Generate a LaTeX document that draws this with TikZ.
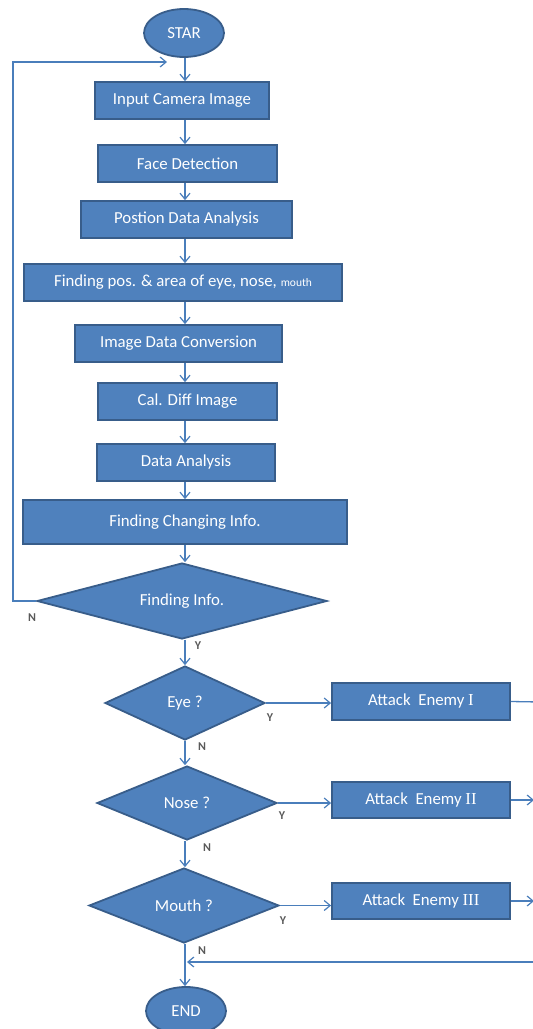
\documentclass[tikz,border=0pt]{standalone}
\usepackage{fontspec}
\setmainfont{Carlito}
\newfontfamily\numfont{Liberation Serif}
\usetikzlibrary{shapes.geometric,arrows.meta}
\definecolor{boxfill}{HTML}{4F81BD}
\definecolor{boxline}{HTML}{385D8A}
\definecolor{arrline}{HTML}{4A7EBB}
\definecolor{lblgray}{HTML}{595959}
\tikzset{
  base/.style={fill=boxfill,draw=boxline,line width=1.8pt,text=white,inner sep=0pt,
    font=\fontsize{16.8}{19}\selectfont},
  procbox/.style={base,rectangle,minimum width=#1,minimum height=37pt},
  termin/.style={base,ellipse,minimum width=80pt,minimum height=48pt},
  decide/.style={base,diamond,aspect=2},
  arr/.style={draw=arrline,line width=1.3pt,-{Straight Barb[length=6pt,width=10pt,line width=1.2pt]}},
  ln/.style={draw=arrline,line width=1.3pt},
  yn/.style={text=lblgray,inner sep=0pt,font=\fontsize{12}{14}\selectfont\bfseries}
}
\begin{document}
\begin{tikzpicture}[x=1pt,y=-1pt]
\useasboundingbox (0,0) rectangle (533,1029);
\coordinate (axis) at (185,0);
% terminals
\node[termin] (start) at (184,33) {STAR};
\node[termin] (end) at (186,1011) {END};
% process boxes
\node[procbox=174pt] (b1) at (182,100.5) {Input Camera Image};
\node[procbox=179pt] (b2) at (187.5,163.5) {Face Detection};
\node[procbox=211pt] (b3) at (186.5,219.5) {Postion Data Analysis};
\node[procbox=318pt] (b4) at (183,282.5) {Finding pos. \& area of eye, nose, {\fontsize{11.5}{13}\selectfont mouth}};
\node[procbox=207pt] (b5) at (178.5,343.5) {Image Data Conversion};
\node[procbox=179pt] (b6) at (187.5,401.5) {Cal. Diff Image};
\node[procbox=178pt] (b7) at (186,462.5) {Data Analysis};
\node[procbox=324pt,minimum height=44pt] (b8) at (185,522) {Finding Changing Info.};
% decisions
\node[decide,minimum width=290pt,minimum height=76pt] (info) at (182,601) {Finding Info.};
\node[decide,minimum width=160pt,minimum height=74pt] (eye) at (185,703) {Eye ?};
\node[decide,minimum width=180pt,minimum height=74pt] (nose) at (187,803) {Nose ?};
\node[decide,minimum width=190pt,minimum height=75pt] (mouth) at (184,905.5) {Mouth ?};
% attack boxes
\node[procbox=178pt] (a1) at (421,701.5) {Attack\ \ Enemy {\numfont I}};
\node[procbox=178pt,minimum height=36pt] (a2) at (421,800) {Attack\ \ Enemy {\numfont II}};
\node[procbox=178pt,minimum height=36pt] (a3) at (421,901) {Attack\ \ Enemy {\numfont III}};
% main chain
\draw[arr] (start.south -| axis) -- (b1.north -| axis);
\draw[arr] (b1.south -| axis) -- (b2.north -| axis);
\draw[arr] (b2.south -| axis) -- (b3.north -| axis);
\draw[arr] (b3.south -| axis) -- (b4.north -| axis);
\draw[arr] (b4.south -| axis) -- (b5.north -| axis);
\draw[arr] (b5.south -| axis) -- (b6.north -| axis);
\draw[arr] (b6.south -| axis) -- (b7.north -| axis);
\draw[arr] (b7.south -| axis) -- (b8.north -| axis);
\draw[arr] (b8.south -| axis) -- (info.north -| axis);
\draw[arr] (info.south -| axis) -- (eye.north -| axis);
\draw[arr] (eye.south -| axis) -- (nose.north -| axis);
\draw[arr] (nose.south -| axis) -- (mouth.north -| axis);
\draw[arr] (mouth.south -| axis) -- (end.north -| axis);
% feedback loop
\coordinate (fbtop) at (13,62);
\coordinate (fbtip) at (167,62);
\draw[arr] (info.west) -- (info.west -| fbtop) -- (fbtop) -- (fbtip);
% yes branches
\draw[arr] (eye.east) -- (eye.east -| a1.west);
\draw[arr] (nose.east) -- (nose.east -| a2.west);
\draw[arr] (mouth.east) -- (mouth.east -| a3.west);
\coordinate (r1) at (540,702);
\coordinate (r2) at (534,800);
\coordinate (r3) at (534,901);
\draw[ln] (a1.east) -- (r1);
\draw[arr] (a2.east) -- (r2);
\draw[arr] (a3.east) -- (r3);
% return line
\coordinate (rr) at (540,962);
\coordinate (rtip) at (187,962);
\draw[arr] (rr) -- (rtip);
% labels
\node[yn] (ninfo) at (32,618) {N};
\node[yn] (yinfo) at (198,646) {Y};
\node[yn] (yeye) at (270,718) {Y};
\node[yn] (neye) at (202,747) {N};
\node[yn] (ynose) at (282,816) {Y};
\node[yn] (nnose) at (207,848) {N};
\node[yn] (ymouth) at (283,921) {Y};
\node[yn] (nmouth) at (202,951) {N};
\end{tikzpicture}
\end{document}
